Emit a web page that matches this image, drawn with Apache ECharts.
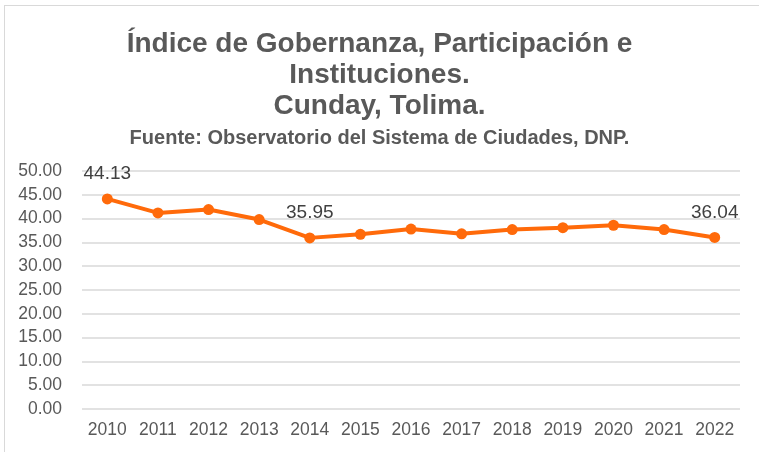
<!DOCTYPE html>
<html>
<head>
<meta charset="utf-8">
<script src="https://cdn.jsdelivr.net/npm/echarts@6/dist/echarts.min.js"></script>
<style>
  html, body { margin: 0; padding: 0; background: #fff; }
  #frame { position: absolute; left: 4px; top: 5px; width: 760px; height: 452px; border: 1px solid #d9d9d9; box-sizing: border-box; }
  #chart { position: absolute; left: 0; top: 0; width: 759px; height: 452px; }
</style>
</head>
<body>
<div id="frame"></div>
<div id="chart"></div>
<script>
// datos
var years = ['2010','2011','2012','2013','2014','2015','2016','2017','2018','2019','2020','2021','2022'];
var indice = [44.13, 41.2, 41.9, 39.8, 35.95, 36.7, 37.8, 36.8, 37.7, 38.1, 38.6, 37.7, 36.04];
var labelled = [0, 4, 12]; // puntos con etiqueta

var chart = echarts.init(document.getElementById('chart'));
var font = 'Liberation Sans, Arial, sans-serif';

var points = indice.map(function (v, i) {
    var p = { value: v };
    if (labelled.indexOf(i) >= 0) {
        p.label = { show: true };
    }
    return p;
});

chart.setOption({
    animation: false,
    title: [{
        text: 'Índice de Gobernanza, Participación e\nInstituciones.\nCunday, Tolima.',
        left: 'center',
        top: 24,
        textStyle: { fontFamily: font, fontSize: 28, fontWeight: 'bold', color: '#595959', lineHeight: 31 }
    }, {
        text: 'Fuente: Observatorio del Sistema de Ciudades, DNP.',
        left: 'center',
        top: 123,
        textStyle: { fontFamily: font, fontSize: 20, fontWeight: 'bold', color: '#595959' }
    }],
    grid: { left: 82, right: 19, top: 171, bottom: 43 },
    xAxis: {
        type: 'category',
        data: years,
        boundaryGap: true,
        axisLine: { show: false },
        axisTick: { show: false },
        axisLabel: { fontFamily: font, fontSize: 17.5, color: '#595959', margin: 12 }
    },
    yAxis: {
        type: 'value',
        min: 0,
        max: 50,
        interval: 5,
        axisLabel: {
            fontFamily: font, fontSize: 17.5, color: '#595959', margin: 20,
            formatter: function (v) { return v.toFixed(2); }
        },
        splitLine: { lineStyle: { color: '#d9d9d9', width: 1.5 } }
    },
    series: [{
        type: 'line',
        data: points,
        color: '#ff6a0a',
        lineStyle: { width: 4 },
        symbol: 'circle',
        symbolSize: 11,
        label: {
            show: false,
            position: 'top',
            distance: 10,
            fontFamily: font,
            fontSize: 19,
            color: '#404040',
            formatter: function (p) { return p.value.toFixed(2); }
        }
    }]
});
</script>
</body>
</html>
